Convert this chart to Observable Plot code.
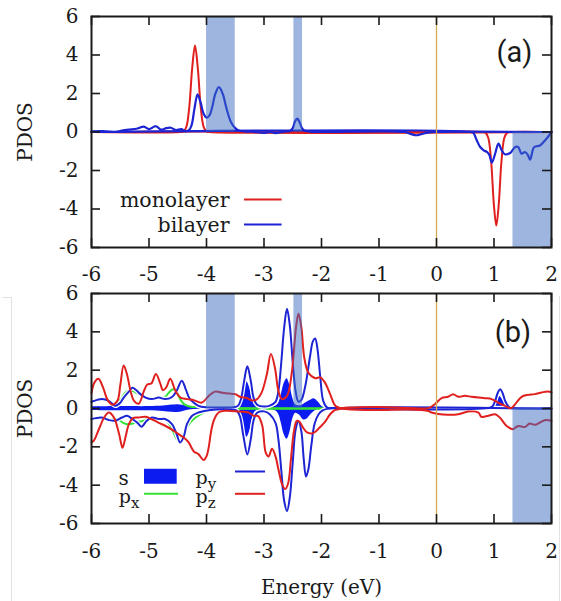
<!DOCTYPE html>
<html><head><meta charset="utf-8">
<script src="https://cdn.jsdelivr.net/npm/d3@7"></script>
<script src="https://cdn.jsdelivr.net/npm/@observablehq/plot@0.6"></script>
<style>
html,body{margin:0;padding:0;background:#fff;}
#wrap{position:relative;width:561px;height:601px;overflow:hidden;background:#fff;}
#wrap svg{display:block;overflow:visible;}
.deco{position:absolute;background:#e2e2e2;}
</style></head><body><div id="wrap"></div>
<script>
// ---------- axes ----------
const xTicks = [-6, -5, -4, -3, -2, -1, 0, 1, 2];
const yTicks = [-6, -4, -2, 0, 2, 4, 6];
const fermi = [0];
// shaded bands [x1, x2, y1, y2]
const bandX1 = [-4, -2.48, 1.33];
const bandX2 = [-3.5, -2.33, 2];
const bandY1 = [0, 0, -6];
const bandY2 = [6, 6, 0];

// ---------- panel (a) ----------
const monoUpE = [-6, -4.45, -4.4, -4.35, -4.3, -4.25, -4.2, -4.15, -4.1, -4.05, -4.0, -3.95, 2];
const monoUpV = [0, 0, 0.03, 0.27, 1.28, 3.28, 4.49, 3.28, 1.28, 0.27, 0.03, 0, 0];
const monoDnE = [-6, 0.8, 0.85, 0.9, 0.95, 1.0, 1.04, 1.08, 1.13, 1.18, 1.23, 1.28, 2];
const monoDnV = [0, 0, -0.03, -0.3, -1.52, -3.85, -4.86, -3.85, -1.52, -0.3, -0.03, 0, 0];
const biUpE = [-6, -5.8, -5.6, -5.45, -5.35, -5.2, -5.09, -5.0, -4.88, -4.79, -4.7, -4.62, -4.53, -4.44, -4.37, -4.31, -4.26, -4.21, -4.155, -4.1, -4.05, -4.0, -3.95, -3.9, -3.85, -3.785, -3.72, -3.65, -3.58, -3.5, -3.44, -3.35, -3.2, -3.0, -2.9, -2.8, -2.65, -2.55, -2.5, -2.46, -2.42, -2.38, -2.34, -2.3, -2.2, -2.0, -0.55, -0.45, -0.35, -0.25, -0.15, 0, 2];
const biUpV = [0.03, 0.05, 0, 0.08, 0.12, 0.18, 0.28, 0.15, 0.3, 0.12, 0.2, 0.22, 0.1, 0.15, 0.05, 0.08, 0.35, 1.2, 1.95, 1.5, 0.95, 0.75, 0.85, 1.3, 1.95, 2.33, 2.0, 1.2, 0.55, 0.2, 0.08, 0.03, 0.02, -0.05, 0, -0.06, 0.02, 0.05, 0.2, 0.55, 0.69, 0.5, 0.2, 0.08, 0.02, 0, 0, -0.1, -0.17, -0.1, -0.03, 0, 0];
const biDnE = [-6, 0.6, 0.643, 0.7, 0.76, 0.82, 0.88, 0.92, 0.962, 1.02, 1.077, 1.135, 1.19, 1.28, 1.37, 1.42, 1.48, 1.54, 1.59, 1.627, 1.7, 1.8, 1.89, 1.98, 2];
const biDnV = [0, 0, -0.05, -0.43, -0.78, -0.95, -1.04, -1.2, -1.59, -1.13, -0.6, -0.95, -1.16, -1.09, -0.78, -0.78, -1.13, -1.04, -1.2, -1.44, -0.78, -0.7, -0.43, -0.09, 0];
const legendA = ["monolayer", "bilayer"];

// ---------- panel (b) ----------
const sUpE = [-6, -5.5, -5.0, -4.75, -4.6, -4.5, -4.42, -4.3, -4.15, -3.9, -3.5, -3.45, -3.4, -3.35, -3.3, -3.25, -3.2, -3.15, -3.05, -2.9, -2.8, -2.75, -2.7, -2.65, -2.6, -2.55, -2.5, -2.45, -2.36, -2.27, -2.18, -2.12, -2.06, -1.98, -1.9, 0.9, 0.98, 1.04, 1.1, 1.16, 1.23, 1.3, 2];
const sUpV = [0.08, 0.1, 0.1, 0.13, 0.18, 0.2, 0.17, 0.08, 0.04, 0.03, 0.05, 0.2, 0.6, 1.15, 1.4, 1.1, 0.5, 0.15, 0.06, 0.06, 0.12, 0.25, 0.7, 1.3, 1.55, 1.2, 0.55, 0.2, 0.15, 0.3, 0.45, 0.5, 0.35, 0.08, 0.02, 0.02, 0.1, 0.35, 0.62, 0.4, 0.08, 0.02, 0.02];
const sDnE = [-6, -5.5, -5.0, -4.75, -4.6, -4.5, -4.42, -4.3, -4.15, -3.9, -3.5, -3.45, -3.4, -3.35, -3.3, -3.25, -3.2, -3.15, -3.05, -2.9, -2.8, -2.75, -2.7, -2.65, -2.6, -2.55, -2.5, -2.45, -2.38, -2.31, -2.25, -2.18, -2.1, -2.0, -1.9, 2];
const sDnV = [-0.1, -0.12, -0.12, -0.15, -0.19, -0.21, -0.17, -0.08, -0.04, -0.03, -0.05, -0.2, -0.6, -1.25, -1.5, -1.2, -0.55, -0.15, -0.06, -0.06, -0.12, -0.28, -0.75, -1.35, -1.6, -1.25, -0.55, -0.25, -0.35, -0.6, -0.55, -0.3, -0.1, -0.03, -0.02, -0.02];
const pxUpE = [-6, -5.85, -5.7, -5.6, -5.5, -5.42, -5.35, -5.27, -5.18, -5.06, -4.95, -4.83, -4.72, -4.65, -4.58, -4.52, -4.45, -4.38, -4.25, -4.1, -3.95, -3.8, -3.5, 2];
const pxUpV = [0.3, 0.45, 0.35, 0.2, 0.45, 0.8, 0.95, 0.9, 0.75, 0.6, 0.5, 0.55, 0.6, 0.85, 1.0, 0.85, 0.45, 0.2, 0.08, 0.1, 0.08, 0.05, 0.02, 0.01];
const pxDnE = [-6, -5.85, -5.7, -5.55, -5.45, -5.38, -5.3, -5.2, -5.1, -5.0, -4.85, -4.72, -4.62, -4.55, -4.5, -4.45, -4.38, -4.3, -4.2, -4.1, -4.0, -3.9, -3.5, 2];
const pxDnV = [-0.5, -0.5, -0.6, -0.55, -0.75, -0.82, -0.8, -0.7, -0.65, -0.5, -0.5, -0.55, -0.95, -1.4, -1.65, -1.6, -1.2, -0.8, -0.5, -0.3, -0.15, -0.05, -0.02, -0.01];
const pyUpE = [-6, -5.9, -5.82, -5.7, -5.59, -5.5, -5.44, -5.35, -5.29, -5.22, -5.15, -5.06, -4.95, -4.83, -4.72, -4.6, -4.52, -4.43, -4.36, -4.3, -4.22, -4.14, -4.02, -3.8, -3.6, -3.5, -3.45, -3.4, -3.35, -3.29, -3.23, -3.18, -3.12, -3.0, -2.9, -2.8, -2.75, -2.7, -2.65, -2.6, -2.55, -2.5, -2.45, -2.4, -2.35, -2.28, -2.2, -2.15, -2.11, -2.07, -2.02, -1.97, -1.9, -1.8, 0.9, 0.97, 1.02, 1.07, 1.11, 1.15, 1.2, 1.27, 1.35, 2];
const pyUpV = [0.35, 0.45, 0.5, 0.4, 0.14, 0.3, 0.57, 0.88, 1.08, 0.95, 0.75, 0.57, 0.49, 0.57, 0.49, 0.6, 0.92, 1.45, 1.0, 0.55, 0.3, 0.14, 0.06, 0.05, 0.05, 0.08, 0.15, 0.5, 1.35, 2.2, 1.45, 0.55, 0.2, 0.1, 0.15, 0.35, 0.9, 2.4, 4.2, 5.2, 4.3, 2.4, 0.9, 0.35, 0.45, 1.2, 2.7, 3.5, 3.65, 3.1, 1.6, 0.4, 0.05, 0.02, 0.02, 0.1, 0.4, 0.85, 1.0, 0.8, 0.35, 0.05, 0.01, 0.01];
const pyDnE = [-6, -5.82, -5.7, -5.59, -5.47, -5.38, -5.29, -5.2, -5.13, -5.04, -4.95, -4.83, -4.72, -4.6, -4.52, -4.46, -4.4, -4.34, -4.25, -4.14, -3.96, -3.6, -3.48, -3.42, -3.36, -3.29, -3.23, -3.18, -3.12, -3.0, -2.9, -2.8, -2.75, -2.7, -2.65, -2.6, -2.55, -2.5, -2.45, -2.4, -2.35, -2.31, -2.27, -2.23, -2.18, -2.12, -2.05, -1.98, -1.9, 2];
const pyDnV = [-0.55, -0.47, -0.6, -0.64, -0.47, -0.38, -0.55, -0.75, -0.95, -0.64, -0.47, -0.55, -0.55, -0.82, -1.33, -1.77, -1.51, -0.82, -0.38, -0.21, -0.09, -0.05, -0.1, -0.4, -1.4, -2.4, -1.6, -0.6, -0.22, -0.15, -0.3, -0.75, -1.6, -3.2, -4.8, -5.35, -4.6, -2.8, -1.1, -0.65, -1.2, -2.6, -3.55, -3.2, -2.0, -0.8, -0.3, -0.1, -0.02, -0.01];
const pzUpE = [-6, -5.95, -5.88, -5.8, -5.72, -5.64, -5.55, -5.5, -5.44, -5.38, -5.32, -5.26, -5.18, -5.09, -5.03, -4.96, -4.88, -4.8, -4.76, -4.7, -4.63, -4.54, -4.45, -4.34, -4.22, -4.08, -3.96, -3.85, -3.72, -3.61, -3.5, -3.41, -3.3, -3.21, -3.12, -3.04, -2.95, -2.88, -2.81, -2.75, -2.69, -2.6, -2.52, -2.44, -2.4, -2.35, -2.3, -2.23, -2.11, -2.02, -1.94, -1.85, -1.76, -1.68, -1.5, -1.0, -0.5, -0.14, -0.03, 0.09, 0.2, 0.29, 0.38, 0.49, 0.61, 0.73, 0.84, 0.96, 1.07, 1.19, 1.3, 1.39, 1.48, 1.59, 1.71, 1.83, 1.94, 2];
const pzUpV = [0.8, 1.35, 1.55, 1.1, 0.45, 0.2, 0.4, 1.2, 2.25, 1.75, 0.9, 0.4, 0.25, 0.9, 1.25, 1.3, 1.8, 1.27, 0.95, 1.1, 1.55, 0.92, 0.57, 0.49, 0.43, 0.31, 0.66, 0.88, 0.82, 0.78, 0.75, 0.6, 0.55, 0.42, 0.49, 0.84, 1.79, 2.85, 2.13, 0.92, 0.49, 0.66, 1.79, 4.31, 4.95, 4.23, 2.66, 1.88, 1.58, 1.62, 1.35, 0.75, 0.14, 0.03, 0.05, 0.08, 0.03, 0.02, 0.22, 0.54, 0.61, 0.75, 0.61, 0.66, 0.61, 0.57, 0.54, 0.49, 0.31, 0.14, 0.02, 0.31, 0.61, 0.71, 0.75, 0.84, 0.89, 0.84];
const pzDnE = [-6, -5.96, -5.87, -5.78, -5.7, -5.61, -5.52, -5.46, -5.41, -5.35, -5.28, -5.18, -5.06, -4.95, -4.83, -4.72, -4.6, -4.48, -4.38, -4.31, -4.22, -4.14, -4.05, -4.0, -3.96, -3.92, -3.87, -3.79, -3.67, -3.44, -3.27, -3.18, -3.1, -3.03, -2.97, -2.92, -2.86, -2.8, -2.74, -2.68, -2.63, -2.58, -2.53, -2.48, -2.43, -2.38, -2.32, -2.25, -2.17, -2.1, -2.02, -1.94, -1.85, -1.77, -1.68, -1.5, -1.0, -0.5, -0.14, -0.09, 0.2, 0.38, 0.55, 0.73, 0.78, 0.9, 1.02, 1.1, 1.22, 1.33, 1.42, 1.54, 1.62, 1.71, 1.8, 1.88, 2];
const pzDnV = [-1.77, -1.68, -1.07, -0.47, -0.21, -0.47, -1.33, -2.05, -1.51, -0.82, -0.5, -0.47, -0.43, -0.56, -0.75, -0.9, -1.1, -1.35, -1.55, -1.77, -2.24, -2.38, -2.69, -2.5, -2.0, -1.2, -0.6, -0.21, -0.12, -0.16, -0.21, -0.38, -0.4, -0.9, -2.3, -2.5, -2.1, -2.5, -3.3, -4.0, -4.2, -3.9, -2.6, -1.2, -0.65, -0.7, -1.0, -1.25, -1.3, -1.2, -0.95, -0.7, -0.3, -0.08, -0.02, -0.05, -0.08, -0.05, -0.13, -0.21, -0.33, -0.3, -0.16, -0.21, -0.43, -0.38, -0.3, -0.47, -0.91, -1.08, -0.91, -0.96, -0.78, -0.85, -0.73, -0.61, -0.64];
const legendBMain = ["s", "p", "p", "p"];
const legendBSub = ["", "x", "y", "z"];

// ---------- style ----------
const red = "#e0201e", blue = "#1c24d4", sBlue = "#0c1cf0", green = "#34e034";
const bandFill = "#3d6cc0", yellow = "#d4aa52", ink = "#1a1a1a";
const W = 561, ML = 91, MR = 10;
const innerW = W - ML - MR;
const H1 = 284, MT1 = 16, MB1 = 37, innerH1 = H1 - MT1 - MB1;
const H2 = 317, MT2 = 9, MB2 = 78, innerH2 = H2 - MT2 - MB2;
const serif = "'DejaVu Serif', serif";
const sans = "Roboto, 'Open Sans', sans-serif";

const zip = (E, V) => E.map((e, i) => ({e, v: V[i]}));
const bands = bandX1.map((x1, i) => ({x1, x2: bandX2[i], y1: bandY1[i], y2: bandY2[i]}));
const crv = "catmull-rom";
const ln = (E, V, color, extra = {}) => Plot.line(zip(E, V), {x: "e", y: "v", stroke: color, strokeWidth: 2, curve: crv, ...extra});

function frameMarks(innerH, pad) {
  const tk = {stroke: ink, strokeWidth: 1.6};
  return [
    Plot.rect(bands, {x1: "x1", x2: "x2", y1: "y1", y2: "y2", fill: bandFill, fillOpacity: 0.5}),
    Plot.ruleX(fermi, {x: d => d, stroke: yellow, strokeWidth: 1.3}),
    Plot.ruleX(xTicks, {x: d => d, insetBottom: innerH - 9, ...tk}),
    Plot.ruleX(xTicks, {x: d => d, insetTop: innerH - 9, ...tk}),
    Plot.ruleY(yTicks, {y: d => d, insetRight: innerW - 9, ...tk}),
    Plot.ruleY(yTicks, {y: d => d, insetLeft: innerW - 9, ...tk}),
    Plot.frame({stroke: ink, strokeWidth: 2}),
    Plot.axisX({ticks: xTicks, tickSize: 0, tickPadding: pad, tickFormat: d => String(d), label: null, fill: ink, fontFamily: serif, fontSize: 20}),
    Plot.axisY({ticks: yTicks, tickSize: 0, tickPadding: 13, tickFormat: d => String(d), label: null, fill: ink, fontFamily: serif, fontSize: 20}),
    Plot.text(["PDOS"], {frameAnchor: "left", dx: -66, rotate: -90, textAnchor: "middle", lineAnchor: "middle", fill: ink, fontSize: 20, fontFamily: serif})
  ];
}
function legendRule(y0, yPix, x1, x2, color, w) {
  return Plot.ruleY([0], {dy: yPix - y0, insetLeft: x1 - ML, insetRight: (W - MR) - x2, stroke: color, strokeWidth: w});
}
const txt = (s, dx, dy, anchor, size, font = serif) =>
  Plot.text([s], {frameAnchor: "top-left", dx, dy, textAnchor: anchor, lineAnchor: "middle", fontSize: size, fontFamily: font, fill: ink});

const baseStyle = {fontFamily: serif, fontSize: "20px", color: ink, background: "white", overflow: "visible"};

// ---------- plot (a) ----------
const y0a = MT1 + innerH1 / 2;
const plotA = Plot.plot({
  width: W, height: H1, marginLeft: ML, marginRight: MR, marginTop: MT1, marginBottom: MB1,
  x: {domain: [-6, 2], label: null}, y: {domain: [-6, 6], label: null},
  style: baseStyle,
  marks: [
    ln(monoUpE, monoUpV, red),
    ln(monoDnE, monoDnV, red),
    ln(biUpE, biUpV, blue, {strokeWidth: 2.2}),
    ln(biDnE, biDnV, blue, {strokeWidth: 2.2}),
    ...frameMarks(innerH1, 19),
    txt("(a)", 423, 36, "middle", 29, sans),
    txt(legendA[0], 138, 183.6, "end", 20.5),
    txt(legendA[1], 138, 209.1, "end", 20.5),
    legendRule(y0a, 199, 244, 281.6, red, 2),
    legendRule(y0a, 224, 244, 281.6, blue, 2.2)
  ]
});

// ---------- plot (b) ----------
const y0b = MT2 + innerH2 / 2;
const subKey = (i) => legendBMain[i] + "\u2009" + legendBSub[i];
const plotB = Plot.plot({
  width: W, height: H2, marginLeft: ML, marginRight: MR, marginTop: MT2, marginBottom: MB2,
  x: {domain: [-6, 2], label: null}, y: {domain: [-6, 6], label: null},
  style: baseStyle,
  marks: [
    Plot.areaY(zip(sUpE, sUpV), {x: "e", y: "v", fill: sBlue, curve: crv}),
    Plot.areaY(zip(sDnE, sDnV), {x: "e", y: "v", fill: sBlue, curve: crv}),
    ln(pxUpE, pxUpV, green),
    ln(pxDnE, pxDnV, green),
    ln(pyUpE, pyUpV, "white", {strokeWidth: 4.5}),
    ln(pyDnE, pyDnV, "white", {strokeWidth: 4.5}),
    ln(pyUpE, pyUpV, blue),
    ln(pyDnE, pyDnV, blue),
    ln(pzUpE, pzUpV, red),
    ln(pzDnE, pzDnV, red),
    ...frameMarks(innerH2, 20.5),
    Plot.text(["Energy (eV)"], {frameAnchor: "bottom", dy: 63.6, lineAnchor: "middle", textAnchor: "middle", fontSize: 20, fontFamily: serif, fill: ink}),
    txt("(b)", 421.5, 39.5, "middle", 29, sans),
    txt(legendBMain[0], 37.3, 184.6, "end", 20),
    txt(subKey(1), 27.3, 203.6, "start", 19),
    txt(subKey(2), 104, 184.1, "start", 19),
    txt(subKey(3), 104, 203.6, "start", 19),
    legendRule(y0b, 191.7, 144, 176.7, sBlue, 15),
    legendRule(y0b, 209.3, 144, 178, green, 2),
    legendRule(y0b, 187, 235, 265, blue, 2),
    legendRule(y0b, 209.3, 235, 265, red, 2)
  ]
});

// turn "p x" style legend labels into p with a real subscript
d3.select(plotB).selectAll("text").each(function () {
  const t = this.textContent;
  const i = [1, 2, 3].find(k => subKey(k) === t);
  if (i === undefined) return;
  const el = d3.select(this);
  el.text(legendBMain[i]);
  el.append("tspan").attr("dy", "5px").attr("font-size", "15px").text(legendBSub[i]);
});

const wrap = document.getElementById("wrap");
wrap.appendChild(plotA);
wrap.appendChild(plotB);
// faint frame remnants seen at the edges of the reference image
[[11, 297, 1, 304], [2, 297, 10, 1], [559, 296, 1, 305]].forEach(([l, t, w, h]) => {
  const d = document.createElement("div");
  d.className = "deco";
  Object.assign(d.style, {left: l + "px", top: t + "px", width: w + "px", height: h + "px"});
  wrap.appendChild(d);
});
</script></body></html>
